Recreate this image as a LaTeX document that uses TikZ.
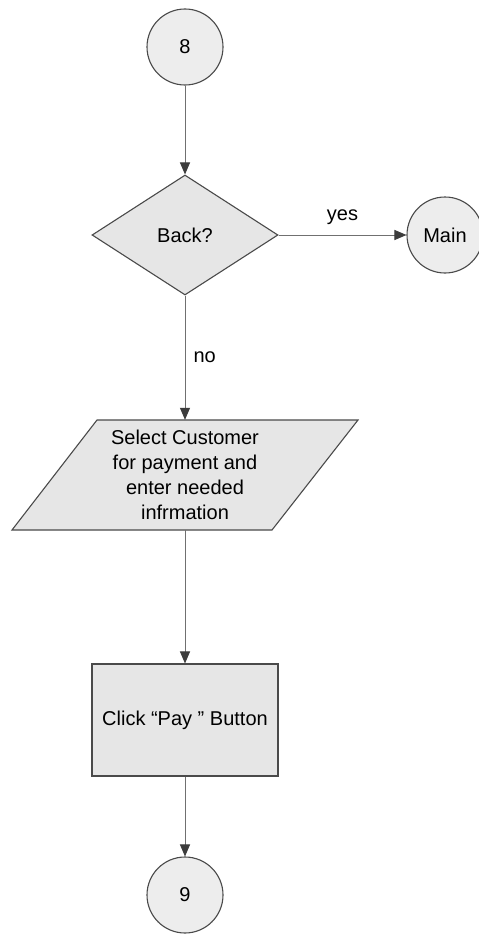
\documentclass[tikz,border=0pt]{standalone}
\usepackage{fontspec}
\setmainfont{Liberation Sans}
\usetikzlibrary{shapes.geometric,arrows.meta}
\definecolor{shapefill}{HTML}{E6E6E6}
\definecolor{circfill}{HTML}{EDEDED}
\definecolor{edgecol}{HTML}{4A4A4A}
\definecolor{linecol}{HTML}{707070}
\definecolor{tipcol}{HTML}{3C3C3C}
\tikzset{
  base/.style={font=\fontsize{20}{25}\selectfont, text=black, inner sep=0pt, align=center},
  conn/.style={circle, base, draw=edgecol, fill=circfill, line width=1.1pt, minimum size=76pt},
  decision/.style={diamond, base, draw=edgecol, fill=shapefill, line width=1.1pt, minimum width=186pt, minimum height=120pt},
  process/.style={rectangle, base, draw=edgecol, fill=shapefill, line width=1.1pt, minimum width=186pt, minimum height=112pt},
  iobox/.style={rectangle, base, minimum width=170pt, minimum height=110pt},
  flow/.style={draw=linecol, line width=1pt, -{Triangle[length=12pt,width=10pt,fill=tipcol,color=tipcol]}},
  lab/.style={base}
}
\begin{document}
\begin{tikzpicture}[x=1pt,y=-1pt]
\useasboundingbox (0,0) rectangle (479,934);
\fill[white] (0,0) rectangle (479,934);
\node[conn] (c8) at (185,47) {8};
\node[decision] (back) at (185,235) {Back?};
\node[conn] (main) at (445,235) {Main};
% parallelogram
\fill[shapefill, draw=edgecol, line width=1.1pt] (97,420) -- (358,420) -- (272,530) -- (12,530) -- cycle;
\node[iobox] (sel) at (185,475) {Select Customer\\for payment and\\enter needed\\infrmation};
\node[process] (pay) at (185,720) {Click “Pay ” Button};
\node[conn] (c9) at (185,895) {9};
\draw[flow] (c8) -- (back.north);
\draw[flow] (back.east) -- node[lab, above=10pt] {yes} (main.west);
\draw[flow] (back.south) -- node[lab, right=8pt, pos=0.5] {no} (sel.north);
\draw[flow] (sel.south) -- (pay.north);
\draw[flow] (pay.south) -- (c9.north);
\end{tikzpicture}
\end{document}
